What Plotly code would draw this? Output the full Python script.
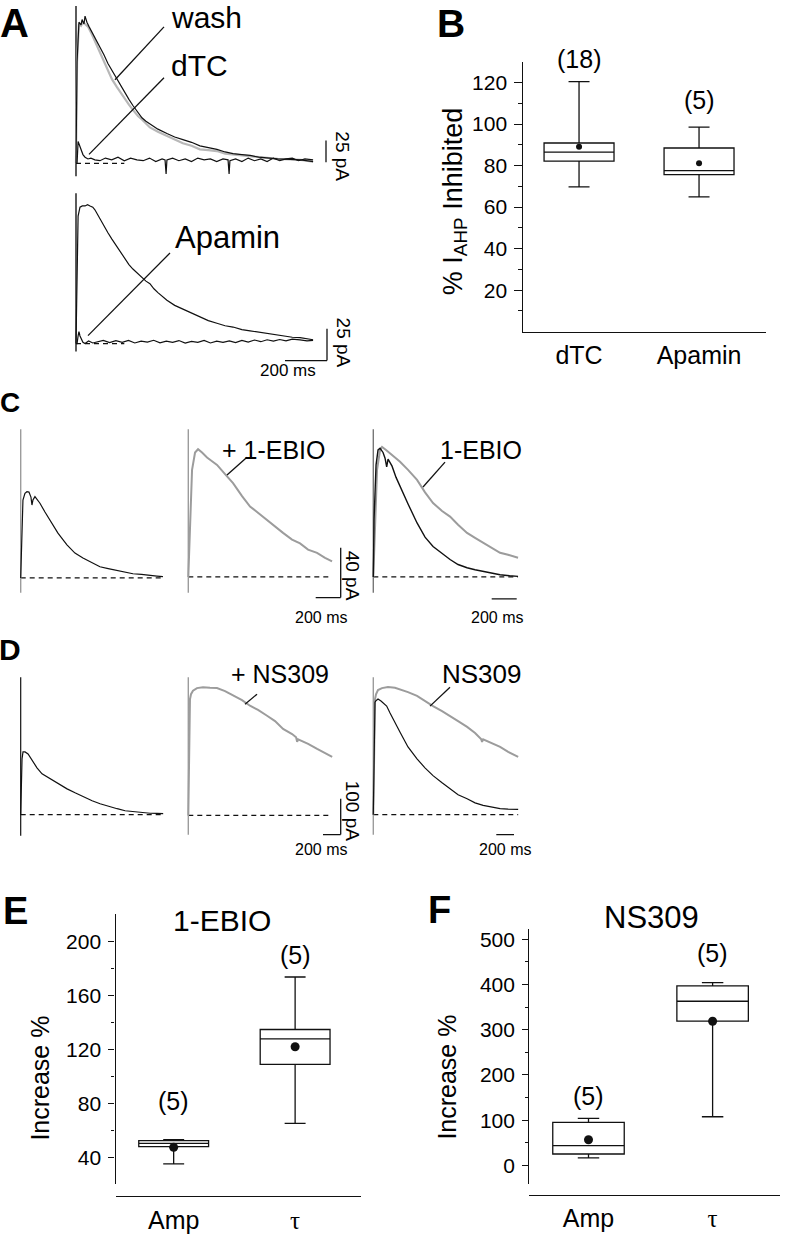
import plotly.graph_objects as go

W, H = 786, 1234
FONT = "Liberation Sans, Arial, sans-serif"
BLACK = "#111111"
GRAY = "#9c9c9c"
LGRAY = "#b8b8b8"

# ===================== DATA =====================
# ---- Panel A, top: control (gray), wash (black), dTC (black); time ms, current pA
A1_ctrl_t = [0, 5, 14, 24, 33, 45, 57, 76, 95, 114, 133, 152, 171, 195, 214, 233, 252, 271, 295, 314, 333, 352, 390, 433,
             470, 509, 550, 590, 630, 671, 710, 748, 790, 829, 870, 909, 960, 1019, 1070, 1129]
A1_ctrl_I = [0, 116, 159, 157, 161, 158, 156, 147, 137, 127, 117, 107, 96, 87, 80, 74, 67, 61, 54, 50, 45, 41, 36, 31,
             27, 23, 20, 16, 15, 14, 11, 10, 9, 8, 7, 6, 5, 4.5, 4, 2]
A1_wash_t = [0, 5, 14, 24, 29, 38, 43, 48, 52, 62, 76, 95, 114, 133, 152, 171, 195, 214, 233, 252, 271, 295, 314, 333,
             352, 390, 433, 470, 509, 550, 590, 630, 671, 710, 748, 790, 829, 870, 909, 960, 1019, 1070, 1129]
A1_wash_I = [0, 116, 161, 158, 164, 159, 168, 162, 161, 156, 150, 141, 133, 124, 114, 106, 97, 89, 80, 73, 66, 58, 52, 48,
             45, 39, 34, 30, 27, 24, 20, 18, 16, 13, 11, 10, 9, 7, 6, 5, 4.5, 4, 2]
A1_dtc_t = [0, 5, 10, 14, 19, 24, 33, 43, 57, 71, 90, 114, 140, 170, 200, 230, 260, 290, 320, 350, 380, 410, 424, 429,
            433, 460, 490, 520, 550, 580, 610, 640, 670, 700, 724, 729, 733, 760, 790, 820, 850, 880, 910, 940, 970,
            1000, 1030, 1060, 1090, 1129]
A1_dtc_I = [0, 0, 25, 22, 19, 14, 10, 7, 5, 6, 4, 3, 6, 4, 7, 3, 6, 4, 3, 6, 2, 5, 4, -12, 4, 6, 3, 5, 2, 6, 4, 5, 2, 5,
            4, -12, 3, 5, 2, 6, 3, 5, 2, 6, 3, 5, 6, 3, 5, 4]
A1_art_t = [0, 0]
A1_art_I = [-14.8, 179.5]

# ---- Panel A, bottom: control (black), apamin (black)
A2_ctrl_t = [0, 5, 10, 19, 30, 43, 55, 67, 80, 90, 100, 114, 133, 152, 171, 195, 214, 233, 252, 271, 295, 314, 333, 352,
             371, 390, 410, 433, 470, 509, 550, 590, 630, 671, 710, 748, 790, 829, 870, 909, 950, 986, 1030, 1067, 1100, 1129]
A2_ctrl_I = [0, 65, 100, 107, 108, 108, 109, 108, 107, 105, 102, 97.5, 92, 87, 82, 76, 71, 66, 62, 58.5, 55, 51.5, 49,
             47, 43, 40, 37, 34, 30, 27, 24, 21, 18, 16, 14, 13, 11, 10, 9, 8, 7, 6, 5, 4.7, 4, 3]
A2_apa_t = [0, 5, 10, 14, 19, 24, 33, 43, 60, 80, 100, 130, 160, 190, 220, 250, 280, 310, 340, 370, 400, 430, 460, 490,
            520, 550, 580, 610, 640, 670, 700, 730, 760, 790, 820, 850, 880, 910, 940, 970, 1000, 1030, 1067, 1100, 1129]
A2_apa_I = [0, 0, 6, 9.4, 6, 4, 1, 0, 2, 0.5, 1.5, 2.5, 0.8, 2.3, 1, 2.5, 0.5, 2, 1.2, 2.6, 0.6, 2, 1, 2.4, 0.4, 1.8,
            1, 2.5, 0.5, 2, 1, 2.2, 0.8, 2.5, 1.2, 2.8, 1.5, 3, 2, 3.2, 2.2, 3.5, 3, 2.2, 2.6]
A2_art_t = [0, 0]
A2_art_I = [-6.2, 118]

# ---- Panel B: % I_AHP inhibited
B_categories = ["dTC", "Apamin"]
B_q1 = [82.2, 75.7]
B_median = [86.5, 77.6]
B_q3 = [90.9, 88.5]
B_low = [69.8, 64.9]
B_high = [120.5, 98.6]
B_mean = [89.1, 81.1]
B_n = [18, 5]
B_ticks = [20, 40, 60, 80, 100, 120]

# ---- Panel C: control (black) and + 1-EBIO (gray)
C1_ctrl_t = [0, 10, 18, 34, 50, 66, 82, 90, 98, 114, 154, 194, 234, 298, 370, 434, 498, 570, 634, 700, 770, 834, 898,
             966, 1034, 1090, 1138]
C1_ctrl_I = [0, 46.6, 62.6, 68, 69.3, 69, 65, 58.6, 62.6, 65.3, 60, 53, 46.6, 36, 26.6, 20, 16, 12, 9, 7.5, 6, 4.5,
             3.4, 2.8, 1.8, 1.5, 1]
C2_ebio_t = [0, 14, 30, 54, 78, 110, 150, 190, 230, 294, 358, 430, 494, 540, 558, 630, 694, 758, 830, 870, 894, 958,
             1030, 1094, 1150]
C2_ebio_I = [0, 46, 86, 100, 102.6, 100, 96, 93, 90, 82.6, 75.4, 65, 56.5, 53, 51.5, 46, 40, 35.4, 30, 28.5, 27, 22,
             19.4, 15.4, 12.5]
C3_ebio_t = [0, 14, 30, 54, 70, 102, 150, 214, 278, 350, 414, 478, 550, 614, 678, 750, 814, 878, 950, 1014, 1078, 1158]
C3_ebio_I = [0, 46, 86, 102, 104.5, 102, 98, 92.5, 86, 78, 68, 59.4, 53, 48.5, 42, 35.4, 31.4, 27.4, 23.4, 19.4, 17.8, 15.4]
C3_ctrl_t = [0, 6, 22, 38, 54, 78, 94, 107, 118, 150, 182, 214, 278, 350, 414, 478, 550, 614, 678, 750, 814, 878, 946,
             1014, 1090, 1158]
C3_ctrl_I = [0, 46, 90, 102, 103.4, 100, 95.4, 88.5, 94.6, 89, 80, 72.5, 58.6, 43.4, 32, 24.5, 18.6, 14, 10, 7.4, 5.8,
             4.5, 3, 1.8, 1, 0.5]
C1_art_I = [-11.8, 119.4]
C2_art_I = [-12.6, 118.6]
C3_art_I = [-12.6, 118.6]

# ---- Panel D: control (black) and + NS309 (gray)
D1_ctrl_t = [0, 9, 15, 26, 49, 83, 105, 139, 184, 241, 331, 422, 524, 614, 705, 807, 897, 988, 1090, 1180, 1271, 1360,
             1463, 1540, 1610]
D1_ctrl_I = [0, 100, 155.6, 175, 175, 169.6, 161, 147, 130.7, 114, 100, 86, 72, 61, 50, 39, 30.6, 23.6, 16.7, 11, 8.3,
             6, 4, 3.5, 2.8]
D2_ns_t = [0, 14, 19, 30.5, 53, 98, 166, 245, 324, 415, 505, 607, 697, 788, 890, 980, 1071, 1173, 1218, 1230, 1241,
           1263, 1354, 1456, 1546, 1626]
D2_ns_I = [0, 213, 324, 338, 347.5, 355, 357.7, 356, 355, 346.6, 334, 321.6, 305.8, 294, 278, 263, 241, 227, 218, 205,
           212, 210, 199.7, 185.4, 174, 163]
D3_ns_t = [0, 8, 19, 30.5, 53, 98, 166, 245, 301, 392, 494, 584, 675, 777, 867, 958, 1060, 1150, 1218, 1229, 1241,
           1343, 1433, 1524, 1637]
D3_ns_I = [0, 211, 322, 336, 347.5, 353, 355.8, 354, 350, 342, 331.6, 317, 303, 289, 276, 261, 245, 228, 211, 203, 210,
           200, 189, 175, 161]
D3_ctrl_t = [0, 8, 19, 30.5, 53, 87, 121, 151, 189, 234, 301, 392, 494, 584, 675, 777, 867, 958, 1060, 1150, 1241,
             1343, 1433, 1524, 1637]
D3_ctrl_I = [0, 211, 314, 318, 322.6, 317, 308.6, 303, 283.5, 261, 230.7, 189, 155.7, 130.7, 109, 89, 72, 55.6, 44.5,
             33, 25.8, 20.8, 16.7, 15.3, 14.7]
D1_art_I = [-58.4, 383.6]
D2_art_I = [-53.7, 385.6]
D3_art_I = [-55.6, 383.6]

# ---- Panel E: 1-EBIO increase %
E_categories = ["Amp", "τ"]
E_q1 = [47.9, 108.9]
E_median = [50.3, 127.8]
E_q3 = [52.3, 134.7]
E_low = [35.1, 65.1]
E_high = [53.1, 173.6]
E_mean = [47.4, 121.9]
E_n = [5, 5]
E_ticks = [40, 80, 120, 160, 200]

# ---- Panel F: NS309 increase %
F_categories = ["Amp", "τ"]
F_q1 = [25.5, 318.8]
F_median = [44, 362.8]
F_q3 = [95.2, 397]
F_low = [16.8, 107.8]
F_high = [104, 403.8]
F_mean = [57, 318.8]
F_n = [5, 5]
F_ticks = [0, 100, 200, 300, 400, 500]

# scale-bar sizes
SB_TIME = 200
SB_A = 25
SB_C = 40
SB_D = 100

# ===================== LAYOUT HELPERS =====================
def fx(p):
    return p / W

def fy(p):
    return 1 - p / H

layout = dict(width=W, height=H, margin=dict(l=0, r=0, t=0, b=0), paper_bgcolor="white",
              plot_bgcolor="rgba(0,0,0,0)", showlegend=False, font=dict(family=FONT, color="black"))
traces = []
shapes = []
annotations = []

def axname(n, kind):
    return kind + ("" if n == 1 else str(n))

# trace panels: origin pixel, baseline pixel, ms per px, pA per px, domain px
TP = {
    "A1": dict(n=1, x0=76, base=162, mpp=200 / 42, ppp=25 / 22, dx=(60, 362), dy=(0, 182)),
    "A2": dict(n=2, x0=76, base=343, mpp=200 / 42, ppp=25 / 32, dx=(60, 362), dy=(182, 380)),
    "C1": dict(n=4, x0=20.7, base=578.3, mpp=8.0, ppp=0.8, dx=(5, 180), dy=(420, 625)),
    "C2": dict(n=5, x0=188.3, base=577.3, mpp=8.0, ppp=0.8, dx=(175, 365), dy=(420, 625)),
    "C3": dict(n=6, x0=373.3, base=577.3, mpp=8.0, ppp=0.8, dx=(360, 530), dy=(420, 625)),
    "D1": dict(n=7, x0=20.7, base=816, mpp=11.3, ppp=100 / 36, dx=(5, 180), dy=(665, 860)),
    "D2": dict(n=8, x0=188.3, base=816.7, mpp=11.3, ppp=100 / 36, dx=(175, 365), dy=(665, 860)),
    "D3": dict(n=9, x0=373.3, base=816, mpp=11.3, ppp=100 / 36, dx=(360, 530), dy=(665, 860)),
}

for k, p in TP.items():
    n = p["n"]
    layout["xaxis" + ("" if n == 1 else str(n))] = dict(
        domain=[fx(p["dx"][0]), fx(p["dx"][1])],
        range=[(p["dx"][0] - p["x0"]) * p["mpp"], (p["dx"][1] - p["x0"]) * p["mpp"]],
        visible=False, anchor=axname(n, "y"), fixedrange=True)
    layout["yaxis" + ("" if n == 1 else str(n))] = dict(
        domain=[fy(p["dy"][1]), fy(p["dy"][0])],
        range=[(p["base"] - p["dy"][1]) * p["ppp"], (p["base"] - p["dy"][0]) * p["ppp"]],
        visible=False, anchor=axname(n, "x"), fixedrange=True)

def T(px, key):
    p = TP[key]
    return (px - p["x0"]) * p["mpp"]

def I(py, key):
    p = TP[key]
    return (p["base"] - py) * p["ppp"]

def line(key, t, v, color=BLACK, width=1.2, dash=None):
    n = TP[key]["n"]
    traces.append(go.Scatter(x=t, y=v, mode="lines", xaxis=axname(n, "x"), yaxis=axname(n, "y"),
                             line=dict(color=color, width=width, dash=dash), hoverinfo="skip"))

DASH = "5px,4px"

# ---- Panel A
line("A1", [0, 230], [0, 0], BLACK, 1.2, DASH)
line("A1", A1_art_t, A1_art_I, "#333333", 1.6)
line("A1", A1_ctrl_t, A1_ctrl_I, LGRAY, 2.2)
line("A1", A1_wash_t, A1_wash_I, BLACK, 1.2)
line("A1", A1_dtc_t, A1_dtc_I, BLACK, 1.2)
line("A2", [0, 230], [0, 0], BLACK, 1.2, DASH)
line("A2", A2_art_t, A2_art_I, "#333333", 1.6)
line("A2", A2_ctrl_t, A2_ctrl_I, BLACK, 1.2)
line("A2", A2_apa_t, A2_apa_I, BLACK, 1.2)

# ---- Panel C
line("C1", [0, C1_ctrl_t[-1]], [0, 0], BLACK, 1.2, DASH)
line("C1", [0, 0], C1_art_I, GRAY, 1.4)
line("C1", C1_ctrl_t, C1_ctrl_I, BLACK, 1.2)
line("C2", [0, C2_ebio_t[-1]], [0, 0], BLACK, 1.2, DASH)
line("C2", [0, 0], C2_art_I, GRAY, 1.4)
line("C2", C2_ebio_t, C2_ebio_I, GRAY, 2.0)
line("C3", [0, C3_ebio_t[-1]], [0, 0], BLACK, 1.2, DASH)
line("C3", [0, 0], C3_art_I, "#777777", 1.4)
line("C3", C3_ebio_t, C3_ebio_I, GRAY, 2.0)
line("C3", C3_ctrl_t, C3_ctrl_I, BLACK, 1.4)

# ---- Panel D
line("D1", [0, D1_ctrl_t[-1]], [0, 0], BLACK, 1.2, DASH)
line("D1", [0, 0], D1_art_I, BLACK, 1.2)
line("D1", D1_ctrl_t, D1_ctrl_I, BLACK, 1.2)
line("D2", [0, D2_ns_t[-1]], [0, 0], BLACK, 1.2, DASH)
line("D2", [0, 0], D2_art_I, GRAY, 1.4)
line("D2", D2_ns_t, D2_ns_I, GRAY, 2.0)
line("D3", [0, D3_ns_t[-1]], [0, 0], BLACK, 1.2, DASH)
line("D3", [0, 0], D3_art_I, GRAY, 1.4)
line("D3", D3_ns_t, D3_ns_I, GRAY, 2.0)
line("D3", D3_ctrl_t, D3_ctrl_I, BLACK, 1.2)

# ---- scale bars (data coordinates)
def seg(key, t0, v0, t1, v1):
    n = TP[key]["n"]
    shapes.append(dict(type="line", xref=axname(n, "x"), yref=axname(n, "y"), x0=t0, y0=v0, x1=t1, y1=v1,
                       line=dict(color=BLACK, width=1.3)))

tA, vA = T(326, "A1"), I(161, "A1")
seg("A1", tA, vA, tA, vA + SB_A)
tA2, vA2 = T(327, "A2"), I(360, "A2")
seg("A2", tA2, vA2, tA2, vA2 + SB_A)
seg("A2", tA2, vA2, tA2 - SB_TIME, vA2)
tC, vC = T(340.7, "C2"), I(598, "C2")
seg("C2", tC, vC, tC, vC + SB_C)
seg("C2", tC, vC, tC - SB_TIME, vC)
tC3, vC3 = T(516.7, "C3"), I(599.3, "C3")
seg("C3", tC3, vC3, tC3 - SB_TIME, vC3)
tD, vD = T(340.7, "D2"), I(836, "D2")
seg("D2", tD, vD, tD, vD + SB_D)
seg("D2", tD, vD, tD - SB_TIME, vD)
tD3, vD3 = T(514, "D3"), I(836, "D3")
seg("D3", tD3, vD3, tD3 - SB_TIME, vD3)

# ---- pointer lines (paper coordinates)
def pline(x0, y0, x1, y1):
    shapes.append(dict(type="line", xref="paper", yref="paper", x0=fx(x0), y0=fy(y0), x1=fx(x1), y1=fy(y1),
                       line=dict(color=BLACK, width=1.3)))

pline(164, 25, 115, 78)
pline(164, 76, 89, 153)
pline(170, 252, 88, 335)
pline(247, 457, 227, 475)
pline(445, 462, 423, 487)
pline(257, 695, 245, 705)
pline(450, 688, 430, 707)

def text(s, x, y, size, angle=0, xanchor="center"):
    annotations.append(dict(text=s, x=fx(x), y=fy(y), xref="paper", yref="paper", showarrow=False,
                            xanchor=xanchor, yanchor="middle", textangle=angle,
                            font=dict(size=size, family=FONT, color="black")))

# panel letters
text("<b>A</b>", 14, 21, 40)
text("<b>B</b>", 451, 22, 39)
text("<b>C</b>", 10, 402, 28)
text("<b>D</b>", 10, 650, 30)
text("<b>E</b>", 15, 913, 38)
text("<b>F</b>", 439, 912, 38)

# trace labels
text("wash", 206, 16, 30)
text("dTC", 199, 64, 30)
text("Apamin", 227, 236, 31)
text("+ 1-EBIO", 274, 450, 25)
text("1-EBIO", 481, 450, 25)
text("+ NS309", 280, 675, 25)
text("NS309", 482, 675, 26)

# scale-bar labels
text(f"{SB_A} pA", 343, 155, 19, angle=90)
text(f"{SB_A} pA", 343, 342, 19, angle=90)
text(f"{SB_TIME} ms", 288, 370, 17)
text(f"{SB_C} pA", 352, 576, 19, angle=90)
text(f"{SB_TIME} ms", 321, 618, 16)
text(f"{SB_TIME} ms", 497, 618, 16)
text(f"{SB_D} pA", 352, 812, 19, angle=90)
text(f"{SB_TIME} ms", 321, 851, 16)
text(f"{SB_TIME} ms", 505, 851, 16)

# ===================== BOX PANELS =====================
def box_panel(n, cats, q1, med, q3, lo, hi, mean, ticks, minor, yrange, ydom_px, xrange, xdom_px, boxw, msize,
              tickfont, ticklen, xline_px=None, cat_text=None):
    xa, ya = axname(n, "x"), axname(n, "y")
    traces.append(go.Box(x=[1, 2], q1=q1, median=med, q3=q3, lowerfence=lo, upperfence=hi, width=boxw,
                         whiskerwidth=0.3, fillcolor="white", line=dict(color=BLACK, width=1.3),
                         boxpoints=False, xaxis=xa, yaxis=ya, hoverinfo="skip"))
    traces.append(go.Scatter(x=[1, 2], y=mean, mode="markers", xaxis=xa, yaxis=ya,
                             marker=dict(color=BLACK, size=msize), hoverinfo="skip"))
    xd = dict(domain=[fx(xdom_px[0]), fx(xdom_px[1])], range=xrange, showline=True, linecolor=BLACK,
              linewidth=1.3, ticks="", tickvals=[1, 2], ticktext=cat_text or cats, showgrid=False, zeroline=False,
              tickfont=dict(size=25, family=FONT), fixedrange=True, ticklabelstandoff=1)
    if xline_px is None:
        xd["anchor"] = ya
    else:
        xd["anchor"] = "free"
        xd["position"] = fy(xline_px)
    layout["xaxis" + str(n)] = xd
    layout["yaxis" + str(n)] = dict(domain=[fy(ydom_px[1]), fy(ydom_px[0])], range=yrange, showline=True,
                                    linecolor=BLACK, linewidth=1.3, ticks="outside", ticklen=ticklen,
                                    tickwidth=1.3, tickcolor=BLACK, tickvals=ticks, showgrid=False,
                                    zeroline=False, tickfont=dict(size=tickfont, family=FONT), anchor=xa,
                                    minor=dict(tickvals=minor, ticks="outside", ticklen=ticklen * 0.55,
                                               tickwidth=1.3, tickcolor=BLACK, showgrid=False),
                                    fixedrange=True, ticklabelstandoff=3)

box_panel(3, B_categories, B_q1, B_median, B_q3, B_low, B_high, B_mean, B_ticks, [10, 30, 50, 70, 90, 110],
          [0, 130], (60.1, 331), [0.533, 2.558], (523, 766), 0.583, 6, 21, 7.5)
tau = "<span style='font-family:Liberation Serif'>τ</span>"
box_panel(10, E_categories, E_q1, E_median, E_q3, E_low, E_high, E_mean, E_ticks, [60, 100, 140, 180],
          [20, 220], (916.1, 1187.1), [0.521, 2.54], (115.5, 360.7), 0.575, 9, 21, 6, xline_px=1199.3,
          cat_text=["Amp", tau])
box_panel(11, F_categories, F_q1, F_median, F_q3, F_low, F_high, F_mean, F_ticks, [50, 150, 250, 350, 450],
          [-40.5, 521.9], (931, 1186.7), [0.523, 2.543], (529.3, 780), 0.576, 9, 21, 6, xline_px=1197.7,
          cat_text=["Amp", tau])

# n labels and titles
text(f"({B_n[0]})", 579, 57, 25)
text(f"({B_n[1]})", 699, 98, 25)
text(f"({E_n[0]})", 173, 1103, 25)
text(f"({E_n[1]})", 295, 957, 25)
text(f"({F_n[0]})", 588, 1098, 25)
text(f"({F_n[1]})", 712, 955, 25)
text("% I<sub>AHP</sub> Inhibited", 455, 201, 27, angle=-90)
text("Increase %", 40, 1081, 25, angle=-90)
text("Increase %", 447, 1080, 25, angle=-90)
text("1-EBIO", 222, 922, 30)
text("NS309", 651, 919, 31)

layout["shapes"] = shapes
layout["annotations"] = annotations
fig = go.Figure(data=traces, layout=layout)
fig.write_html("out.html", config={"displayModeBar": False},
               post_script="document.body.style.margin='0';document.body.style.overflow='hidden';")
